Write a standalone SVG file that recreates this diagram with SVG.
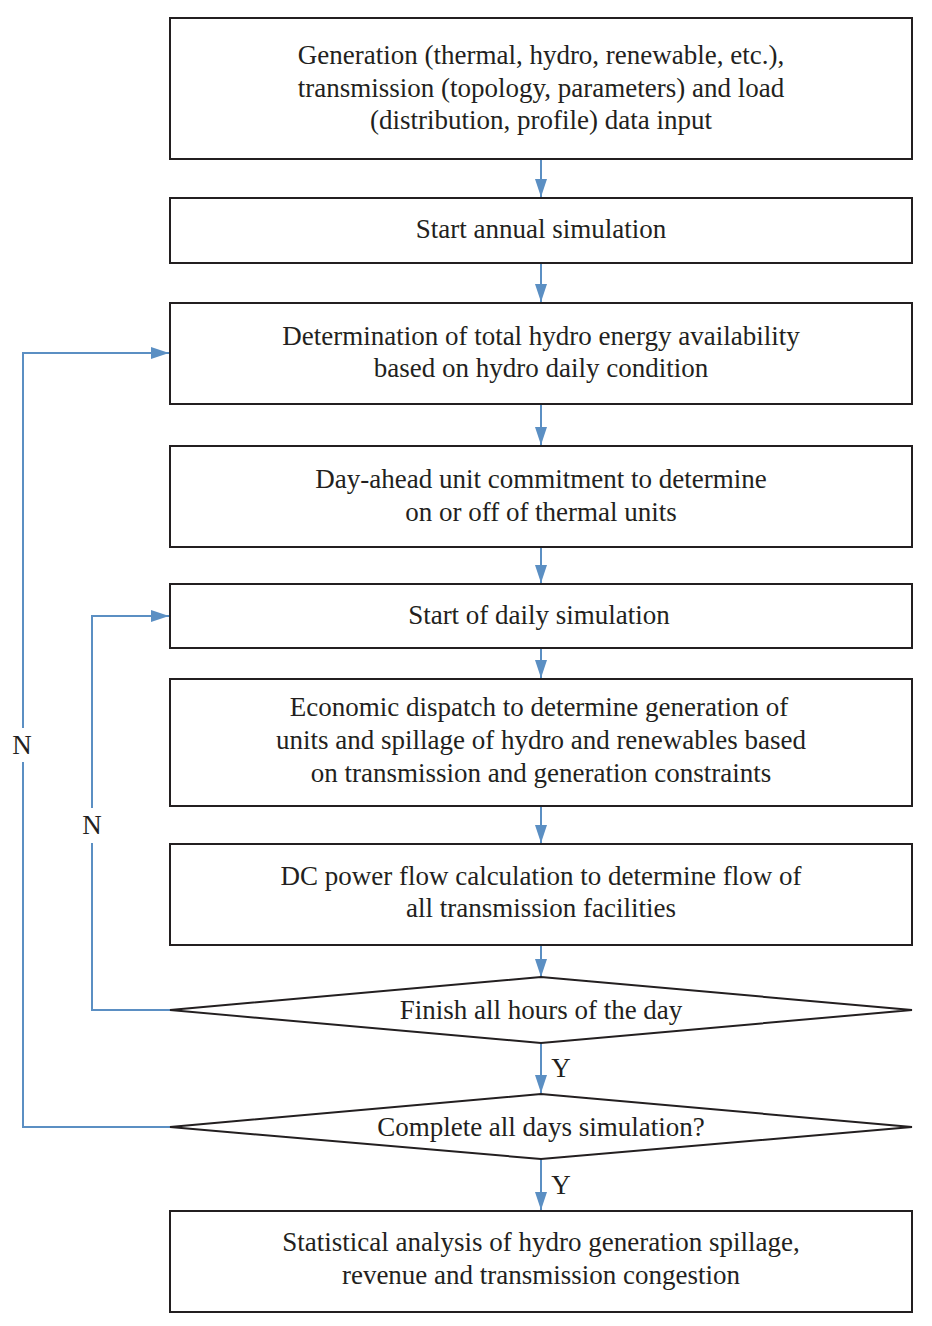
<svg xmlns="http://www.w3.org/2000/svg" width="932" height="1326" viewBox="0 0 932 1326">
<style>
.box{fill:#fff;stroke:#231f20;stroke-width:2}
.t{font-family:"Liberation Serif","Times New Roman",serif;font-size:27px;fill:#231f20;text-anchor:middle}
.c{fill:none;stroke:#5b8fc3;stroke-width:2}
</style>
<defs>
<marker id="ah" markerWidth="20" markerHeight="12" refX="18" refY="6" orient="auto" markerUnits="userSpaceOnUse">
<path d="M0,0 L18,6 L0,12 Z" fill="#5b8fc3"/>
</marker>
</defs>
<rect width="932" height="1326" fill="#fff"/>
<g id="connectors">
<line class="c" x1="541" y1="159" x2="541" y2="197" marker-end="url(#ah)"/>
<line class="c" x1="541" y1="263" x2="541" y2="302" marker-end="url(#ah)"/>
<line class="c" x1="541" y1="404" x2="541" y2="445" marker-end="url(#ah)"/>
<line class="c" x1="541" y1="547" x2="541" y2="583" marker-end="url(#ah)"/>
<line class="c" x1="541" y1="648" x2="541" y2="678" marker-end="url(#ah)"/>
<line class="c" x1="541" y1="806" x2="541" y2="843" marker-end="url(#ah)"/>
<line class="c" x1="541" y1="945" x2="541" y2="977" marker-end="url(#ah)"/>
<line class="c" x1="541" y1="1043" x2="541" y2="1093" marker-end="url(#ah)"/>
<line class="c" x1="541" y1="1159" x2="541" y2="1210" marker-end="url(#ah)"/>
<polyline class="c" points="170,1010 92,1010 92,843"/>
<polyline class="c" points="92,808 92,616 169,616" marker-end="url(#ah)"/>
<polyline class="c" points="170,1127 23,1127 23,762"/>
<polyline class="c" points="23,728 23,353 169,353" marker-end="url(#ah)"/>
<text class="t" x="22" y="754">N</text>
<text class="t" x="92" y="834">N</text>
<text class="t" x="561" y="1077">Y</text>
<text class="t" x="561" y="1194">Y</text>
</g>
<g id="n1"><rect class="box" x="170" y="18" width="742" height="141"/>
<text class="t" x="541" y="64">Generation (thermal, hydro, renewable, etc.),</text>
<text class="t" x="541" y="97">transmission (topology, parameters) and load</text>
<text class="t" x="541" y="129">(distribution, profile) data input</text></g>
<g id="n2"><rect class="box" x="170" y="198" width="742" height="65"/>
<text class="t" x="541" y="238">Start annual simulation</text></g>
<g id="n3"><rect class="box" x="170" y="303" width="742" height="101"/>
<text class="t" x="541" y="345">Determination of total hydro energy availability</text>
<text class="t" x="541" y="377">based on hydro daily condition</text></g>
<g id="n4"><rect class="box" x="170" y="446" width="742" height="101"/>
<text class="t" x="541" y="488">Day-ahead unit commitment to determine</text>
<text class="t" x="541" y="521">on or off of thermal units</text></g>
<g id="n5"><rect class="box" x="170" y="584" width="742" height="64"/>
<text class="t" x="539" y="624">Start of daily simulation</text></g>
<g id="n6"><rect class="box" x="170" y="679" width="742" height="127"/>
<text class="t" x="539" y="716">Economic dispatch to determine generation of</text>
<text class="t" x="541" y="749">units and spillage of hydro and renewables based</text>
<text class="t" x="541" y="782">on transmission and generation constraints</text></g>
<g id="n7"><rect class="box" x="170" y="844" width="742" height="101"/>
<text class="t" x="541" y="885">DC power flow calculation to determine flow of</text>
<text class="t" x="541" y="917">all transmission facilities</text></g>
<g id="n8"><polygon class="box" points="170,1010 541,977 912,1010 541,1043"/>
<text class="t" x="541" y="1019">Finish all hours of the day</text></g>
<g id="n9"><polygon class="box" points="170,1127 541,1094 912,1127 541,1159"/>
<text class="t" x="541" y="1136">Complete all days simulation?</text></g>
<g id="n10"><rect class="box" x="170" y="1211" width="742" height="101"/>
<text class="t" x="541" y="1251">Statistical analysis of hydro generation spillage,</text>
<text class="t" x="541" y="1284">revenue and transmission congestion</text></g>
</svg>
